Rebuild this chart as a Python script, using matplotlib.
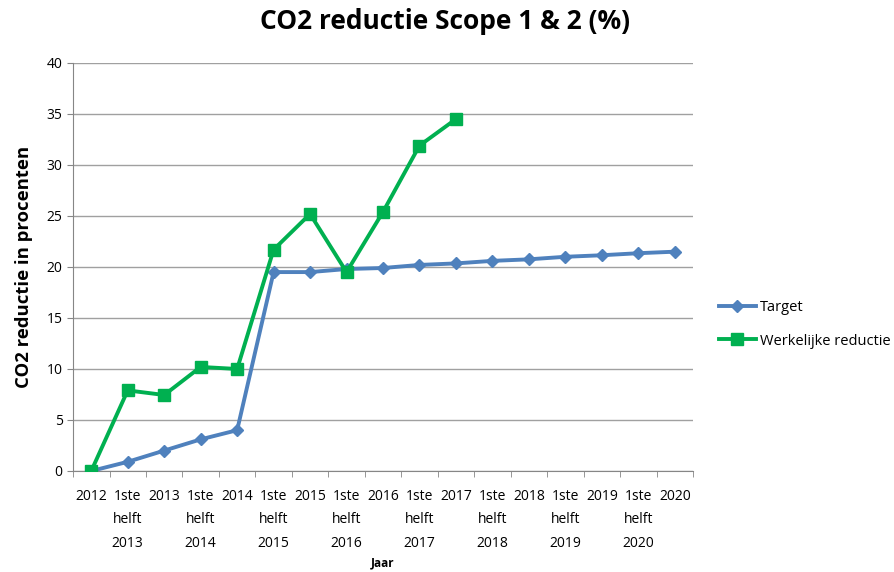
import matplotlib
matplotlib.use("Agg")
import matplotlib.pyplot as plt
import numpy as np

categories = [
    "2012", "1ste\nhelft\n2013", "2013", "1ste\nhelft\n2014", "2014",
    "1ste\nhelft\n2015", "2015", "1ste\nhelft\n2016", "2016",
    "1ste\nhelft\n2017", "2017", "1ste\nhelft\n2018", "2018",
    "1ste\nhelft\n2019", "2019", "1ste\nhelft\n2020", "2020",
]
target = [0, 0.9, 2.0, 3.1, 4.0, 19.5, 19.5, 19.8, 19.9, 20.2, 20.35,
          20.6, 20.75, 21.0, 21.15, 21.35, 21.5]
werkelijk = [0, 7.9, 7.45, 10.2, 10.0, 21.7, 25.2, 19.5, 25.4, 31.9, 34.5]

plt.rcParams["font.family"] = ["Open Sans", "DejaVu Sans"]

fig = plt.figure(figsize=(8.95, 5.72), dpi=100)
ax = fig.add_axes([0.0816, 0.1766, 0.6927, 0.7133])

x = np.arange(len(categories))
ax.plot(x, target, color="#4F81BD", lw=2.8, marker="D", ms=6,
        label="Target", zorder=3)
ax.plot(x[:len(werkelijk)], werkelijk, color="#00B050", lw=2.8, marker="s",
        ms=8, label="Werkelijke reductie", zorder=4)

ax.set_xlim(-0.5, len(categories) - 0.5)
ax.set_ylim(0, 40)
ax.set_yticks(np.arange(0, 41, 5))
ax.set_xticks(x)
ax.set_xticklabels(categories, fontsize=10, linespacing=1.75)
ax.set_xticks(np.arange(-0.5, len(categories), 1), minor=True)
ax.tick_params(axis="x", which="major", length=0, pad=13)
ax.tick_params(axis="x", which="minor", length=4, color="#868686")
ax.tick_params(axis="y", length=4, color="#868686", labelsize=10)

ax.grid(axis="y", color="#A0A0A0", lw=1)
ax.set_axisbelow(True)
for side in ["top", "right"]:
    ax.spines[side].set_visible(False)
for side in ["left", "bottom"]:
    ax.spines[side].set_color("#868686")

fig.text(0.497, 0.962, "CO2 reductie Scope 1 & 2 (%)", fontsize=19,
         fontweight="bold", ha="center", va="center")
ax.set_ylabel("CO2 reductie in procenten", fontsize=13.3, fontweight="bold",
              labelpad=10)
fig.text(0.0816 + 0.6927 / 2, 0.016, "Jaar", fontsize=8.5, fontweight="bold",
         ha="center", va="center")

ax.legend(loc="center left", bbox_to_anchor=(1.02, 0.36), frameon=False,
          fontsize=10.5, handlelength=2.6, handletextpad=0.25, labelspacing=1.3)

fig.savefig("out.png", dpi=100)
